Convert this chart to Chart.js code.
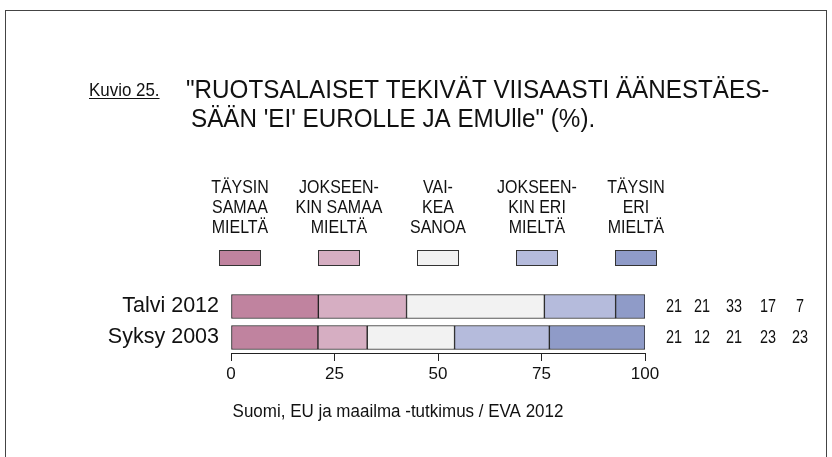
<!DOCTYPE html>
<html>
<head>
<meta charset="utf-8">
<script src="https://cdn.jsdelivr.net/npm/chart.js@4.4.1/dist/chart.umd.min.js"></script>
<style>
    html, body { margin: 0; padding: 0; background: #fff; }
    #wrap { width: 832px; height: 457px; }
</style>
</head>
<body>
<div id="wrap"><canvas id="surveyChart" width="832" height="457"></canvas></div>
<script>
// periods (rows) and answer options (stacked segments)
const periods = ['Talvi 2012', 'Syksy 2003'];
const answerLabels = [
    ['TÄYSIN', 'SAMAA', 'MIELTÄ'],
    ['JOKSEEN-', 'KIN SAMAA', 'MIELTÄ'],
    ['VAI-', 'KEA', 'SANOA'],
    ['JOKSEEN-', 'KIN ERI', 'MIELTÄ'],
    ['TÄYSIN', 'ERI', 'MIELTÄ']
];
const talvi2012 = [21.1, 21.3, 33.3, 17.2, 7.1];
const syksy2003 = [21.0, 11.9, 21.1, 22.9, 23.1];
const xTicks = [0, 25, 50, 75, 100];
const answerColors = ['#C0839F', '#D6AEC2', '#F2F2F2', '#B5BBDC', '#8F9BC8'];

const titleLines = [
    '"RUOTSALAISET TEKIVÄT VIISAASTI ÄÄNESTÄES-',
    'SÄÄN \'EI\' EUROLLE JA EMUlle" (%).'
];
const figureLabel = 'Kuvio 25.';
const sourceText = 'Suomi, EU ja maailma -tutkimus / EVA 2012';

const FONT = "'Liberation Sans', Arial, sans-serif";

// text squeezed horizontally, the original uses a condensed face
function squeezedText(ctx, text, x, y, size, squeeze, align, baseline) {
    ctx.save();
    ctx.font = size + 'px ' + FONT;
    ctx.textAlign = align || 'center';
    ctx.textBaseline = baseline || 'middle';
    ctx.translate(x, y);
    ctx.scale(squeeze, 1);
    ctx.fillText(text, 0, 0);
    const w = ctx.measureText(text).width * squeeze;
    ctx.restore();
    return w;
}

const decorations = {
    id: 'decorations',
    afterDraw(chart) {
        const ctx = chart.ctx;
        const area = chart.chartArea;
        ctx.save();

        // frame
        ctx.strokeStyle = '#444';
        ctx.lineWidth = 1;
        ctx.strokeRect(5.5, 10.5, 821, 480);

        // heading
        ctx.fillStyle = '#111';
        const w = squeezedText(ctx, figureLabel, 89, 96, 18, 0.94, 'left', 'alphabetic');
        ctx.fillRect(89, 98, w, 1);

        squeezedText(ctx, titleLines[0], 186, 98, 25.5, 0.95, 'left', 'alphabetic');
        squeezedText(ctx, titleLines[1], 191, 127, 25.5, 0.95, 'left', 'alphabetic');

        // legend: three text lines above a swatch
        answerLabels.forEach((lines, j) => {
            const cx = area.left + 9 + j * 99;
            lines.forEach((t, k) => {
                squeezedText(ctx, t, cx, 188 + k * 20, 19, 0.84);
            });
            ctx.fillStyle = answerColors[j];
            ctx.fillRect(cx - 21, 250, 42, 16);
            ctx.strokeStyle = '#333';
            ctx.strokeRect(cx - 20.5, 250.5, 41, 15);
            ctx.fillStyle = '#111';
        });

        // values to the right of the bars
        const colX = [29, 57, 89, 123, 155];
        periods.forEach((p, i) => {
            const y = chart.getDatasetMeta(0).data[i].y;
            chart.data.datasets.forEach((ds, j) => {
                squeezedText(ctx, String(Math.round(ds.data[i])), area.right + colX[j], y, 18.5, 0.78);
            });
        });

        // source
        squeezedText(ctx, sourceText, 398, 412, 17.5, 0.97);

        ctx.restore();
    }
};

const rows = [talvi2012, syksy2003];

new Chart(document.getElementById('surveyChart'), {
    type: 'bar',
    data: {
        labels: periods,
        datasets: answerLabels.map((lines, j) => ({
            label: lines.join(' '),
            data: rows.map(r => r[j]),
            backgroundColor: answerColors[j],
            borderColor: '#222',
            borderWidth: 1,
            borderSkipped: false,
            barThickness: 24
        }))
    },
    options: {
        indexAxis: 'y',
        responsive: false,
        animation: false,
        events: [],
        layout: {
            padding: { left: 0, right: 187, top: 291, bottom: 0 }
        },
        plugins: {
            legend: { display: false },
            tooltip: { enabled: false },
            title: { display: false }
        },
        scales: {
            x: {
                stacked: true,
                min: 0,
                max: 100,
                afterBuildTicks: scale => {
                    scale.ticks = xTicks.map(v => ({ value: v }));
                },
                afterFit: scale => { scale.height = 104; },
                grid: {
                    drawOnChartArea: false,
                    tickLength: 8,
                    color: '#222'
                },
                border: { color: '#222', width: 1 },
                ticks: {
                    color: '#111',
                    padding: 3,
                    maxRotation: 0,
                    font: { family: FONT, size: 17 }
                }
            },
            y: {
                stacked: true,
                afterFit: scale => { scale.width = 231; },
                grid: { display: false, drawTicks: false },
                border: { display: false },
                ticks: {
                    color: '#111',
                    padding: 12,
                    font: { family: FONT, size: 21.5 }
                }
            }
        }
    },
    plugins: [decorations]
});
</script>
</body>
</html>
